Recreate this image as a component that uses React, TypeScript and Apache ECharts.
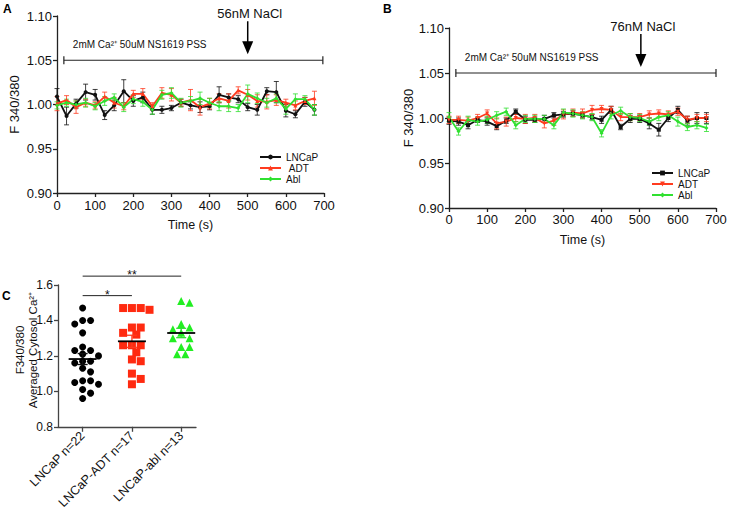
import React, { useEffect, useRef } from "react";
import * as echarts from "echarts";

const FONT = "'Liberation Sans', Arial, Helvetica, sans-serif";
const BLACK = "#111111";
const RED = "#ff3b1f";
const GREEN = "#30e030";

// time points (s)
const TIME = [0, 25, 50, 75, 100, 125, 150, 175, 200, 225, 250, 275, 300, 325, 350, 375, 400, 425, 450, 475, 500, 525, 550, 575, 600, 625, 650, 675];

// Panel A (56nM NaCl)
const A_LNCAP = [1.009, 0.987, 1.001, 1.014, 1.011, 0.988, 0.999, 1.015, 1.004, 1.008, 0.994, 0.994, 0.996, 1.002, 0.999, 0.997, 0.998, 1.011, 1.008, 1.006, 0.997, 0.994, 1.015, 1.014, 0.993, 0.989, 1.003, 0.994];
const A_LNCAP_ERR = [0.009, 0.01, 0.005, 0.009, 0.006, 0.005, 0.006, 0.013, 0.006, 0.006, 0.005, 0.004, 0.003, 0.004, 0.004, 0.006, 0.004, 0.009, 0.004, 0.004, 0.004, 0.006, 0.004, 0.012, 0.007, 0.004, 0.005, 0.006];
const A_ADT = [1.001, 1.005, 0.997, 1.002, 0.999, 1.009, 1.002, 0.998, 1.012, 1.012, 0.998, 1.013, 1.011, 1.002, 1.005, 0.997, 1.001, 1.007, 1.004, 1.016, 1.011, 1.004, 1.003, 1.005, 1.002, 0.999, 1.004, 1.007];
const A_ADT_ERR = [0.008, 0.005, 0.007, 0.004, 0.004, 0.005, 0.006, 0.004, 0.004, 0.006, 0.004, 0.006, 0.007, 0.004, 0.012, 0.009, 0.006, 0.005, 0.008, 0.004, 0.006, 0.007, 0.008, 0.006, 0.004, 0.005, 0.004, 0.008];
const A_ABL = [0.999, 1.002, 1.0, 1.002, 0.998, 1.004, 1.008, 0.997, 1.006, 1.003, 0.994, 1.011, 1.013, 1.002, 1.004, 1.007, 1.002, 0.998, 0.998, 0.996, 1.012, 1.007, 1.002, 1.007, 0.995, 1.006, 1.006, 0.994];
const A_ABL_ERR = [0.004, 0.004, 0.004, 0.005, 0.004, 0.005, 0.004, 0.005, 0.005, 0.005, 0.005, 0.005, 0.006, 0.005, 0.005, 0.007, 0.005, 0.005, 0.006, 0.004, 0.01, 0.006, 0.005, 0.005, 0.006, 0.006, 0.004, 0.006];

// Panel B (76nM NaCl)
const B_LNCAP = [0.997, 0.996, 0.992, 0.998, 0.996, 0.991, 0.997, 1.007, 0.998, 0.998, 0.999, 1.003, 1.004, 1.005, 1.003, 1.001, 0.998, 1.009, 0.99, 0.999, 0.999, 0.994, 0.987, 1.0, 1.009, 0.997, 1.0, 1.0];
const B_LNCAP_ERR = [0.004, 0.004, 0.004, 0.003, 0.004, 0.004, 0.003, 0.003, 0.004, 0.003, 0.004, 0.003, 0.003, 0.003, 0.003, 0.003, 0.004, 0.004, 0.003, 0.004, 0.004, 0.006, 0.007, 0.004, 0.004, 0.005, 0.006, 0.006];
const B_ADT = [0.998, 0.998, 0.997, 1.0, 1.005, 0.994, 0.996, 1.0, 0.999, 1.0, 0.994, 0.997, 1.004, 1.006, 1.005, 1.009, 1.01, 1.009, 1.001, 1.001, 1.001, 1.004, 1.005, 1.004, 1.007, 0.998, 1.0, 1.0];
const B_ADT_ERR = [0.004, 0.004, 0.004, 0.004, 0.004, 0.006, 0.005, 0.004, 0.005, 0.004, 0.005, 0.005, 0.005, 0.004, 0.005, 0.005, 0.004, 0.004, 0.004, 0.004, 0.004, 0.004, 0.004, 0.004, 0.004, 0.004, 0.004, 0.004];
const B_ABL = [1.001, 0.985, 0.998, 0.996, 0.998, 1.003, 1.007, 0.992, 0.999, 0.999, 0.999, 0.992, 1.006, 1.005, 1.003, 1.001, 0.983, 1.003, 1.008, 1.001, 1.0, 0.996, 1.001, 1.003, 0.996, 0.99, 0.992, 0.989];
const B_ABL_ERR = [0.005, 0.004, 0.004, 0.004, 0.004, 0.004, 0.004, 0.004, 0.004, 0.004, 0.004, 0.004, 0.004, 0.004, 0.004, 0.004, 0.004, 0.004, 0.004, 0.004, 0.004, 0.004, 0.004, 0.004, 0.005, 0.004, 0.004, 0.004];

// Panel C
const C_LABELS = ["LNCaP n=22", "LNCaP-ADT n=17", "LNCaP-abl n=13"];
const C_Y_NAME = "F340/380\nAveraged Cytosol Ca²⁺";
const C_LNCAP = [1.47, 1.4, 1.4, 1.38, 1.33, 1.25, 1.23, 1.23, 1.21, 1.2, 1.17, 1.17, 1.16, 1.13, 1.11, 1.06, 1.06, 1.05, 1.04, 1.01, 0.99, 0.96];
const C_ADT = [1.47, 1.47, 1.47, 1.46, 1.36, 1.36, 1.33, 1.32, 1.26, 1.26, 1.26, 1.22, 1.18, 1.17, 1.1, 1.07, 1.04];
const C_ABL = [1.51, 1.5, 1.38, 1.36, 1.35, 1.33, 1.33, 1.3, 1.3, 1.25, 1.25, 1.21, 1.21];
const SIG_PAIRS = [[0, 1], [0, 2]];
const SIG_LEVELS = [1.54, 1.65];
const SIG_TEXT = ["*", "**"];

function swarm(values: number[], center: number, pxX: number, pxY: number, d: number) {
  const placed: { x: number; y: number }[] = [];
  const step = d * 0.55;
  return values.map((v) => {
    const py = v * pxY;
    let ox = 0;
    for (let k = 0; k < 40; k++) {
      const cand = k === 0 ? 0 : (k % 2 === 1 ? 1 : -1) * Math.ceil(k / 2) * step;
      const ok = placed.every((p) => (p.x - cand) ** 2 + (p.y - py) ** 2 >= d * d);
      if (ok) { ox = cand; break; }
    }
    placed.push({ x: ox, y: py });
    return [center + ox / pxX, v];
  });
}

function stats(values: number[]) {
  const n = values.length;
  const mean = values.reduce((a, b) => a + b, 0) / n;
  const sd = Math.sqrt(values.reduce((a, b) => a + (b - mean) ** 2, 0) / (n - 1));
  return [mean, sd / Math.sqrt(n)];
}

function lineSeries(name: string, xi: number, yi: number, vals: number[], color: string, symbol: string, rot = 0) {
  return {
    type: "line", name, xAxisIndex: xi, yAxisIndex: yi,
    data: TIME.map((t, i) => [t, vals[i]]),
    symbol, symbolSize: 4, symbolRotate: rot, showSymbol: true,
    lineStyle: { color, width: 1.8 }, itemStyle: { color }, z: 3,
  };
}

function errSeries(xi: number, yi: number, vals: number[], errs: number[], color: string) {
  return {
    type: "custom", xAxisIndex: xi, yAxisIndex: yi, silent: true, z: 2,
    encode: { x: 0, y: 1 },
    data: TIME.map((t, i) => [t, vals[i], errs[i]]),
    renderItem: (params: any, api: any) => {
      const x = api.value(0), y = api.value(1), e = api.value(2);
      const hi = api.coord([x, y + e]);
      const lo = api.coord([x, y - e]);
      const w = 2.5;
      const st = { stroke: color, lineWidth: 1, opacity: 0.8 };
      return {
        type: "group",
        children: [
          { type: "line", shape: { x1: hi[0], y1: hi[1], x2: lo[0], y2: lo[1] }, style: st },
          { type: "line", shape: { x1: hi[0] - w, y1: hi[1], x2: hi[0] + w, y2: hi[1] }, style: st },
          { type: "line", shape: { x1: lo[0] - w, y1: lo[1], x2: lo[0] + w, y2: lo[1] }, style: st },
        ],
      };
    },
  };
}

function annotSeries(xi: number, yi: number, bar: number[], barY: number, arrowT: number, label: string) {
  return {
    type: "custom", xAxisIndex: xi, yAxisIndex: yi, silent: true, z: 5,
    encode: { x: 0, y: 1 },
    data: [[arrowT, barY]],
    renderItem: (params: any, api: any) => {
      const s = api.coord([bar[0], barY]);
      const e = api.coord([bar[1], barY]);
      const a = api.coord([arrowT, barY]);
      const st = { stroke: "#222", lineWidth: 1.2 };
      return {
        type: "group",
        children: [
          { type: "line", shape: { x1: s[0], y1: s[1], x2: e[0], y2: e[1] }, style: st },
          { type: "line", shape: { x1: s[0], y1: s[1] - 4, x2: s[0], y2: s[1] + 4 }, style: st },
          { type: "line", shape: { x1: e[0], y1: e[1] - 4, x2: e[0], y2: e[1] + 4 }, style: st },
          { type: "text", x: s[0] + 9, y: s[1] - 16, style: { text: "2mM Ca²⁺ 50uM NS1619 PSS", fontSize: 10, fontFamily: FONT, fill: "#111", align: "left", verticalAlign: "middle" } },
          { type: "line", shape: { x1: a[0], y1: a[1] - 39, x2: a[0], y2: a[1] - 18 }, style: { stroke: "#000", lineWidth: 1.5 } },
          { type: "polygon", shape: { points: [[a[0] - 5.5, a[1] - 19], [a[0] + 5.5, a[1] - 19], [a[0], a[1] - 6]] }, style: { fill: "#000" } },
          { type: "text", x: a[0] + 2, y: a[1] - 47, style: { text: label, fontSize: 13, fontFamily: FONT, fill: "#111", align: "center", verticalAlign: "middle" } },
        ],
      };
    },
  };
}

const axisLineStyle = { color: "#222", width: 1.3 };
const labelStyle = { fontFamily: FONT, fontSize: 13, color: "#111" };

function timeXAxis(gi: number, margin: number) {
  return {
    type: "value", gridIndex: gi, min: 0, max: 700, interval: 100,
    name: "Time (s)", nameLocation: "middle", nameGap: 25,
    nameTextStyle: { fontFamily: FONT, fontSize: 12.5, color: "#111" },
    axisLine: { show: true, onZero: false, lineStyle: axisLineStyle },
    axisTick: { show: true, length: 4, lineStyle: axisLineStyle },
    axisLabel: { ...labelStyle, margin },
    splitLine: { show: false },
  };
}

function ratioYAxis(gi: number, gap: number) {
  return {
    type: "value", gridIndex: gi, min: 0.9, max: 1.1, interval: 0.05,
    name: "F 340/380", nameLocation: "middle", nameGap: gap,
    nameTextStyle: { fontFamily: FONT, fontSize: 13, color: "#111" },
    axisLine: { show: true, onZero: false, lineStyle: axisLineStyle },
    axisTick: { show: true, length: 4, lineStyle: axisLineStyle },
    axisLabel: { ...labelStyle, margin: 5, formatter: (v: number) => v.toFixed(2) },
    splitLine: { show: false },
  };
}

export default function App() {
  const ref = useRef<HTMLDivElement>(null);
  useEffect(() => {
    if (!ref.current) return;
    const chart = echarts.init(ref.current, undefined, { renderer: "svg" });

    const pxX = 138 / 2.8;
    const pxY = 147 / 0.8;
    const groups = [C_LNCAP, C_ADT, C_ABL];
    const cStats = groups.map((g, i) => [i, ...stats(g)]);
    const cColors = [BLACK, RED, GREEN];

    const option: any = {
      animation: false,
      backgroundColor: "#ffffff",
      textStyle: { fontFamily: FONT },
      grid: [
        { left: 57, top: 16, width: 267, height: 177 },
        { left: 449, top: 28, width: 267, height: 180 },
        { left: 58, top: 285, width: 138, height: 147 },
      ],
      xAxis: [
        timeXAxis(0, 6),
        timeXAxis(1, 5),
        {
          type: "value", gridIndex: 2, min: -0.5, max: 2.3,
          axisLine: { show: true, onZero: false, lineStyle: { color: "#444", width: 1.3 } },
          axisTick: { show: true, length: 5, customValues: [0, 1, 2], lineStyle: { color: "#444", width: 1.3 } },
          axisLabel: { fontFamily: FONT, fontSize: 12.5, color: "#111", rotate: 45, margin: 7, customValues: [0, 1, 2], formatter: (v: number) => C_LABELS[Math.round(v)] ?? "" },
          splitLine: { show: false },
        },
      ],
      yAxis: [
        ratioYAxis(0, 36),
        ratioYAxis(1, 34),
        {
          type: "value", gridIndex: 2, min: 0.8, max: 1.6, interval: 0.2,
          axisLine: { show: true, onZero: false, lineStyle: { color: "#444", width: 1.3 } },
          axisTick: { show: true, length: 4, lineStyle: { color: "#444", width: 1.3 } },
          axisLabel: { fontFamily: FONT, fontSize: 12, color: "#111", margin: 5, formatter: (v: number) => v.toFixed(1) },
          splitLine: { show: false },
        },
      ],
      legend: [
        {
          orient: "vertical", left: 254, top: 147, itemWidth: 21, itemHeight: 6, itemGap: 1,
          data: ["A:LNCaP", "A:ADT", "A:Abl"],
          formatter: (n: string) => (n === "A:ADT" ? "\u00a0" : "") + n.slice(2),
          textStyle: { fontFamily: FONT, fontSize: 10, color: "#111" },
        },
        {
          orient: "vertical", left: 646, top: 163, itemWidth: 21, itemHeight: 6, itemGap: 1,
          data: ["B:LNCaP", "B:ADT", "B:Abl"],
          formatter: (n: string) => n.slice(2),
          textStyle: { fontFamily: FONT, fontSize: 10, color: "#111" },
        },
      ],
      graphic: [
        { type: "text", left: 3, top: 3, style: { text: "A", fontFamily: FONT, fontSize: 12, fontWeight: "bold", fill: "#000" } },
        { type: "text", left: 383, top: 3, style: { text: "B", fontFamily: FONT, fontSize: 12, fontWeight: "bold", fill: "#000" } },
        { type: "text", left: 2, top: 290, style: { text: "C", fontFamily: FONT, fontSize: 12, fontWeight: "bold", fill: "#000" } },
        {
          type: "text", x: 26, y: 350, rotation: Math.PI / 2,
          style: { text: C_Y_NAME, fontFamily: FONT, fontSize: 11.5, lineHeight: 13, fill: "#111", align: "center", verticalAlign: "middle" },
        },
      ],
      series: [
        errSeries(0, 0, A_LNCAP, A_LNCAP_ERR, BLACK),
        errSeries(0, 0, A_ADT, A_ADT_ERR, RED),
        errSeries(0, 0, A_ABL, A_ABL_ERR, GREEN),
        lineSeries("A:LNCaP", 0, 0, A_LNCAP, BLACK, "circle"),
        lineSeries("A:ADT", 0, 0, A_ADT, RED, "triangle"),
        lineSeries("A:Abl", 0, 0, A_ABL, GREEN, "diamond"),
        annotSeries(0, 0, [18, 697], 1.05, 500, "56nM NaCl"),

        errSeries(1, 1, B_LNCAP, B_LNCAP_ERR, BLACK),
        errSeries(1, 1, B_ADT, B_ADT_ERR, RED),
        errSeries(1, 1, B_ABL, B_ABL_ERR, GREEN),
        lineSeries("B:LNCaP", 1, 1, B_LNCAP, BLACK, "rect"),
        lineSeries("B:ADT", 1, 1, B_ADT, RED, "triangle", 180),
        lineSeries("B:Abl", 1, 1, B_ABL, GREEN, "diamond"),
        annotSeries(1, 1, [18, 700], 1.05, 503, "76nM NaCl"),

        { type: "scatter", xAxisIndex: 2, yAxisIndex: 2, symbol: "circle", symbolSize: 7, itemStyle: { color: "#000", opacity: 1 }, data: swarm(C_LNCAP, 0, pxX, pxY, 7.2) },
        { type: "scatter", xAxisIndex: 2, yAxisIndex: 2, symbol: "rect", symbolSize: 8, itemStyle: { color: "#ff2a10", opacity: 1 }, data: swarm(C_ADT, 1, pxX, pxY, 8) },
        { type: "scatter", xAxisIndex: 2, yAxisIndex: 2, symbol: "triangle", symbolSize: 8, itemStyle: { color: "#22ee22", opacity: 1 }, data: swarm(C_ABL, 2, pxX, pxY, 7.6) },
        {
          type: "custom", xAxisIndex: 2, yAxisIndex: 2, silent: true, z: 6,
          encode: { x: 0, y: 1 },
          data: cStats,
          renderItem: (params: any, api: any) => {
            const x = api.value(0), m = api.value(1), s = api.value(2);
            const c = api.coord([x, m]);
            const hi = api.coord([x, m + s]);
            const lo = api.coord([x, m - s]);
            const col = cColors[params.dataIndex];
            const st = { stroke: col, lineWidth: 1.3 };
            return {
              type: "group",
              children: [
                { type: "line", shape: { x1: hi[0], y1: hi[1], x2: lo[0], y2: lo[1] }, style: st },
                { type: "line", shape: { x1: hi[0] - 5, y1: hi[1], x2: hi[0] + 5, y2: hi[1] }, style: st },
                { type: "line", shape: { x1: lo[0] - 5, y1: lo[1], x2: lo[0] + 5, y2: lo[1] }, style: st },
                { type: "line", shape: { x1: c[0] - 14, y1: c[1], x2: c[0] + 14, y2: c[1] }, style: { stroke: "#000", lineWidth: 1.8 } },
              ],
            };
          },
        },
        {
          type: "custom", xAxisIndex: 2, yAxisIndex: 2, silent: true, z: 6,
          encode: { x: [0, 1], y: 2 },
          data: SIG_LEVELS.map((y, i) => [SIG_PAIRS[i][0], SIG_PAIRS[i][1], y]),
          renderItem: (params: any, api: any) => {
            const a = api.coord([api.value(0), api.value(2)]);
            const b = api.coord([api.value(1), api.value(2)]);
            return {
              type: "group",
              children: [
                { type: "line", shape: { x1: a[0], y1: a[1], x2: b[0], y2: b[1] }, style: { stroke: "#222", lineWidth: 1 } },
                { type: "text", x: (a[0] + b[0]) / 2, y: a[1] - 1, style: { text: SIG_TEXT[params.dataIndex], fontSize: 12, fontFamily: FONT, fill: "#111", align: "center", verticalAlign: "middle" } },
              ],
            };
          },
        },
      ],
    };
    chart.setOption(option);
    return () => chart.dispose();
  }, []);
  return <div ref={ref} style={{ position: "fixed", left: 0, top: 0, width: 750, height: 512, background: "#fff" }} />;
}
